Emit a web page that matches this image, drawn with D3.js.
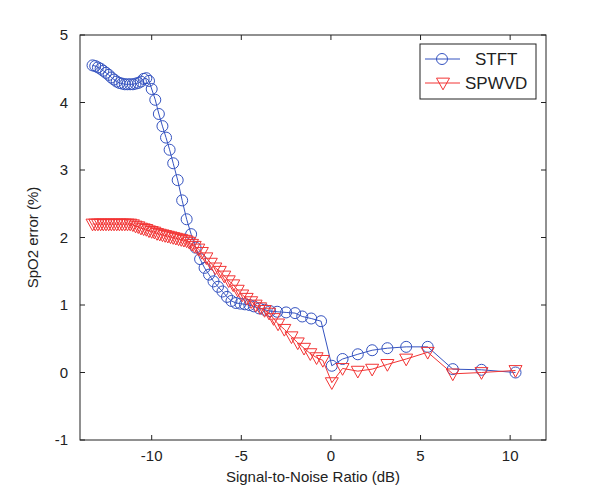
<!DOCTYPE html>
<html>
<head>
<meta charset="utf-8">
<script src="https://cdn.jsdelivr.net/npm/d3@7"></script>
<style>
  body { margin: 0; background: #fff; }
  text { font-family: "Liberation Sans", Arial, sans-serif; fill: #222; }
</style>
</head>
<body>
<div id="chart"></div>
<script>
// SNR (dB) and SpO2 error (%)
const stftSnr = [-13.3,-13.15,-13.0,-12.85,-12.7,-12.55,-12.4,-12.25,-12.1,-11.95,-11.8,-11.65,-11.5,-11.35,-11.2,-11.05,-10.9,-10.75,-10.6,-10.45,-10.3,-10.15,-10.0,
  -9.8,-9.6,-9.4,-9.2,-9.0,-8.8,-8.55,-8.3,-8.05,-7.8,-7.55,-7.3,-7.05,-6.8,-6.55,-6.3,-6.05,-5.8,-5.55,-5.3,-5.05,-4.8,-4.55,-4.3,-4.0,-3.7,-3.4,-3.0,-2.5,-2.0,-1.6,-1.1,-0.55,
  0.05,0.65,1.5,2.3,3.15,4.2,5.4,6.8,8.4,10.3];
const stftErr = [4.55,4.54,4.52,4.50,4.47,4.44,4.41,4.37,4.34,4.31,4.29,4.28,4.27,4.27,4.27,4.27,4.28,4.29,4.31,4.35,4.36,4.32,4.2,
  4.04,3.83,3.65,3.48,3.3,3.1,2.85,2.55,2.27,2.05,1.85,1.68,1.55,1.45,1.35,1.27,1.2,1.12,1.06,1.03,1.02,1.01,1.0,0.98,0.95,0.93,0.91,0.9,0.89,0.88,0.83,0.8,0.76,
  0.1,0.2,0.27,0.33,0.36,0.38,0.38,0.05,0.04,0.0];

const spwvdSnr = [-13.3,-13.15,-13.0,-12.85,-12.7,-12.55,-12.4,-12.25,-12.1,-11.95,-11.8,-11.65,-11.5,-11.35,-11.2,-11.05,-10.9,-10.75,-10.6,-10.45,-10.3,-10.15,-10.0,
  -9.85,-9.7,-9.55,-9.4,-9.25,-9.1,-8.95,-8.8,-8.65,-8.5,-8.35,-8.2,-8.05,-7.9,-7.75,-7.6,-7.4,-7.2,-6.95,-6.7,-6.45,-6.2,-5.95,-5.7,-5.45,-5.2,-4.95,-4.7,-4.45,-4.2,-3.95,-3.7,-3.45,-3.2,-2.95,-2.6,-2.2,-1.85,-1.5,-1.15,-0.8,-0.45,
  0.05,0.65,1.5,2.3,3.15,4.2,5.4,6.8,8.4,10.3];
const spwvdErr = [2.2,2.2,2.2,2.2,2.2,2.2,2.2,2.2,2.2,2.2,2.2,2.2,2.2,2.2,2.2,2.19,2.17,2.16,2.14,2.13,2.12,2.1,2.09,
  2.08,2.06,2.05,2.04,2.03,2.02,2.01,2.0,1.99,1.98,1.97,1.96,1.95,1.93,1.9,1.87,1.83,1.78,1.7,1.62,1.55,1.5,1.43,1.36,1.3,1.22,1.15,1.1,1.05,1.0,0.96,0.92,0.88,0.8,0.72,0.64,0.53,0.44,0.36,0.28,0.22,0.18,
  -0.15,0.06,0.02,0.05,0.12,0.2,0.3,-0.02,0.0,0.03];

const xTicks = [-10, -5, 0, 5, 10];
const yTicks = [-1, 0, 1, 2, 3, 4, 5];
const seriesNames = ["STFT", "SPWVD"];

const W = 600, H = 492;
const margin = {top: 35, right: 54, bottom: 52, left: 80},
      width = W - margin.left - margin.right,
      height = H - margin.top - margin.bottom;

const blue = "#3553c0", red = "#f23434";

const svg = d3.select("#chart").append("svg")
  .attr("width", W).attr("height", H);

const g = svg.append("g")
  .attr("transform", `translate(${margin.left},${margin.top})`);

const x = d3.scaleLinear().domain([-14, 12]).range([0, width]);
const y = d3.scaleLinear().domain([-1, 5]).range([height, 0]);

// box
g.append("rect")
  .attr("width", width).attr("height", height)
  .attr("fill", "none").attr("stroke", "#222").attr("stroke-width", 1);

// ticks (inward, all four sides)
const tl = 5;
xTicks.forEach(t => {
  g.append("line").attr("x1", x(t)).attr("x2", x(t)).attr("y1", height).attr("y2", height - tl).attr("stroke", "#222");
  g.append("line").attr("x1", x(t)).attr("x2", x(t)).attr("y1", 0).attr("y2", tl).attr("stroke", "#222");
  g.append("text").attr("x", x(t)).attr("y", height + 21)
    .attr("text-anchor", "middle").style("font-size", "15px").text(t);
});
yTicks.forEach(t => {
  g.append("line").attr("x1", 0).attr("x2", tl).attr("y1", y(t)).attr("y2", y(t)).attr("stroke", "#222");
  g.append("line").attr("x1", width).attr("x2", width - tl).attr("y1", y(t)).attr("y2", y(t)).attr("stroke", "#222");
  g.append("text").attr("x", -12).attr("y", y(t)).attr("dy", "0.35em")
    .attr("text-anchor", "end").style("font-size", "15px").text(t);
});

g.append("text")
  .attr("x", width / 2).attr("y", height + 42)
  .attr("text-anchor", "middle").style("font-size", "15px")
  .text("Signal-to-Noise Ratio (dB)");

g.append("text")
  .attr("transform", `translate(-42,${height / 2}) rotate(-90)`)
  .attr("text-anchor", "middle").style("font-size", "15px")
  .text("SpO2 error (%)");

const line = d3.line().x(d => x(d[0])).y(d => y(d[1]));
const stft = stftSnr.map((s, i) => [s, stftErr[i]]);
const spwvd = spwvdSnr.map((s, i) => [s, spwvdErr[i]]);

const tri = (cx, cy, s) => `M${cx - s},${cy - s * 0.75}L${cx + s},${cy - s * 0.75}L${cx},${cy + s * 1.05}Z`;

// STFT
g.append("path").datum(stft).attr("d", line)
  .attr("fill", "none").attr("stroke", blue).attr("stroke-width", 1);
g.selectAll(".c").data(stft).enter().append("circle")
  .attr("cx", d => x(d[0])).attr("cy", d => y(d[1])).attr("r", 5.5)
  .attr("fill", "none").attr("stroke", blue).attr("stroke-width", 1);

// SPWVD
g.append("path").datum(spwvd).attr("d", line)
  .attr("fill", "none").attr("stroke", red).attr("stroke-width", 1);
g.selectAll(".t").data(spwvd).enter().append("path")
  .attr("d", d => tri(x(d[0]), y(d[1]), 6.5))
  .attr("fill", "none").attr("stroke", red).attr("stroke-width", 1);

// legend
const lg = svg.append("g").attr("transform", "translate(420,44)");
lg.append("rect").attr("width", 116).attr("height", 55)
  .attr("fill", "#fff").attr("stroke", "#222");
[blue, red].forEach((c, i) => {
  const yy = 15 + i * 24;
  lg.append("line").attr("x1", 5).attr("x2", 40).attr("y1", yy).attr("y2", yy).attr("stroke", c);
  if (i === 0) {
    lg.append("circle").attr("cx", 22).attr("cy", yy).attr("r", 5.5).attr("fill", "none").attr("stroke", c);
  } else {
    lg.append("path").attr("d", tri(23, yy, 6.5)).attr("fill", "none").attr("stroke", c);
  }
  lg.append("text").attr("x", i === 0 ? 55 : 45).attr("y", yy).attr("dy", "0.35em")
    .style("font-size", "17px").text(seriesNames[i]);
});
</script>
</body>
</html>
